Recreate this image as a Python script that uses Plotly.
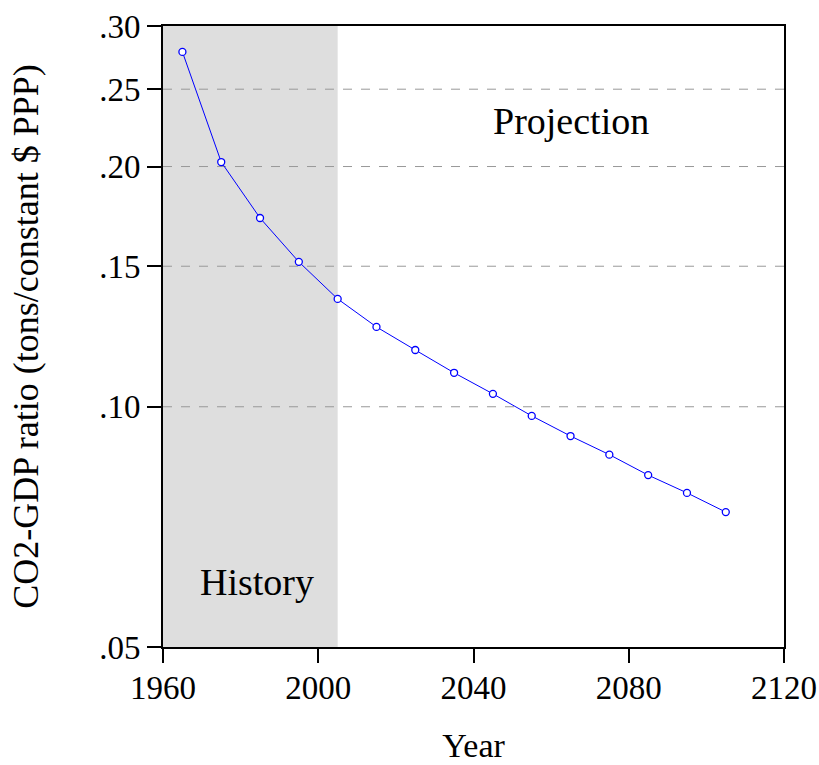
import math
import plotly.graph_objects as go

years = [1965, 1975, 1985, 1995, 2005, 2015, 2025, 2035, 2045, 2055, 2065, 2075, 2085, 2095, 2105]
ratio = [0.2784, 0.2026, 0.1724, 0.1519, 0.1365, 0.1259, 0.1178, 0.1103, 0.1038, 0.0974,
         0.0919, 0.0871, 0.0821, 0.0780, 0.0738]
history_span = [1960, 2005]
ytick_vals = [0.05, 0.10, 0.15, 0.20, 0.25, 0.30]
ytick_text = [".05", ".10", ".15", ".20", ".25", ".30"]
xtick_vals = [1960, 2000, 2040, 2080, 2120]
grid_vals = [0.10, 0.15, 0.20, 0.25]

FONT = "Liberation Serif"

fig = go.Figure()
fig.add_trace(go.Scatter(
    x=years, y=ratio, mode="lines+markers",
    line=dict(color="#0000ff", width=1),
    marker=dict(symbol="circle", size=7, color="white", line=dict(width=1.3, color="#0000ff")),
    showlegend=False,
))

fig.add_shape(type="rect", xref="x", yref="paper", x0=history_span[0], x1=history_span[1],
              y0=0, y1=1, fillcolor="#dedede", line=dict(width=0), layer="below")
for g in grid_vals:
    fig.add_shape(type="line", xref="paper", yref="y", x0=0, x1=1, y0=g, y1=g,
                  line=dict(color="#999999", width=1, dash="dash"), layer="below")

fig.add_annotation(x=2065, y=math.log10(0.228), xref="x", yref="y", text="Projection",
                   showarrow=False, font=dict(family=FONT, size=38, color="black"))
fig.add_annotation(x=1984.3, y=math.log10(0.0603), xref="x", yref="y", text="History",
                   showarrow=False, font=dict(family=FONT, size=38, color="black"))

fig.update_xaxes(range=[1960, 2120], tickvals=xtick_vals, ticks="outside", ticklen=14,
                 tickwidth=1.5, tickcolor="black", showgrid=False, zeroline=False,
                 showline=True, linecolor="black", linewidth=2, mirror=True, automargin=False,
                 ticklabelstandoff=-4,
                 tickfont=dict(family=FONT, size=33, color="black"),
                 title=dict(text="Year", font=dict(family=FONT, size=34, color="black"), standoff=29))
fig.update_yaxes(type="log", range=[-1.30103, -0.52288], tickvals=ytick_vals, ticktext=ytick_text,
                 ticks="outside", ticklen=14, tickwidth=1.5, tickcolor="black", showgrid=False,
                 zeroline=False, showline=True, linecolor="black", linewidth=2, mirror=True,
                 automargin=False,
                 tickfont=dict(family=FONT, size=33, color="black"),
                 title=dict(text="CO2-GDP ratio (tons/constant $ PPP)",
                            font=dict(family=FONT, size=36, color="black"), standoff=50))

fig.update_layout(width=819, height=765, margin=dict(l=163, r=35, t=26, b=118),
                  plot_bgcolor="white", paper_bgcolor="white")
fig.write_html("out.html", config={"displayModeBar": False})

with open("out.html", "r", encoding="utf-8") as f:
    html = f.read()
html = html.replace("<body>", '<body style="margin:0;overflow:hidden">', 1)
with open("out.html", "w", encoding="utf-8") as f:
    f.write(html)
